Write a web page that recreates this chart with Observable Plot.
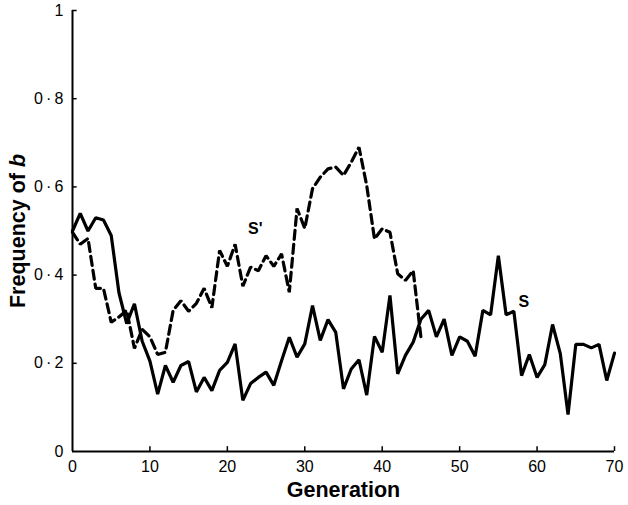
<!DOCTYPE html>
<html>
<head>
<meta charset="utf-8">
<script src="https://cdn.jsdelivr.net/npm/d3@7"></script>
<script src="https://cdn.jsdelivr.net/npm/@observablehq/plot@0.6"></script>
<style>
  html, body { margin: 0; padding: 0; background: #fff; }
  #chart svg { display: block; font-family: "Liberation Sans", Arial, sans-serif; }
</style>
</head>
<body>
<div id="chart"></div>
<script>
// Frequency of b in line S (generations 0..70)
const freqS = [0.50,0.54,0.50,0.53,0.525,0.49,0.36,0.29,0.335,0.25,
  0.205,0.13,0.195,0.157,0.195,0.204,0.135,0.168,0.138,0.184,
  0.202,0.244,0.116,0.154,0.168,0.18,0.15,0.206,0.259,0.214,
  0.244,0.331,0.252,0.299,0.27,0.142,0.187,0.208,0.128,0.261,
  0.225,0.354,0.176,0.218,0.248,0.30,0.32,0.26,0.30,0.218,
  0.26,0.25,0.216,0.32,0.31,0.444,0.31,0.318,0.172,0.22,
  0.168,0.197,0.288,0.222,0.084,0.243,0.243,0.235,0.243,0.161,0.223];
// Frequency of b in line S' (generations 0..45)
const freqSp = [0.497,0.47,0.483,0.37,0.37,0.293,0.305,0.32,0.234,0.277,
  0.26,0.22,0.225,0.32,0.342,0.318,0.336,0.37,0.326,0.456,
  0.42,0.47,0.375,0.418,0.41,0.444,0.42,0.448,0.361,0.551,
  0.506,0.596,0.622,0.641,0.645,0.626,0.656,0.69,0.603,0.482,
  0.505,0.497,0.403,0.388,0.41,0.259];
const xTicks = [0,10,20,30,40,50,60,70];
const yTicks = [0,0.2,0.4,0.6,0.8,1];
const seriesLabels = [{name: "S'", g: 23.6, v: 0.505}, {name: "S", g: 58.3, v: 0.339}];

const dataS = freqS.map((v, i) => ({g: i, v}));
const dataSp = freqSp.map((v, i) => ({g: i, v}));
const fmt = d => d === 0 ? "0" : d === 1 ? "1" : String(d).replace(".", "\u2009\u00B7\u2009");

const plot = Plot.plot({
  width: 628,
  height: 505,
  marginLeft: 72,
  marginRight: 14,
  marginTop: 10,
  marginBottom: 54,
  style: {fontFamily: "'Liberation Sans', Arial, sans-serif", fontSize: "16px", color: "#000", background: "#fff"},
  x: {domain: [0, 70]},
  y: {domain: [0, 1]},
  marks: [
    Plot.axisX(xTicks, {tickSize: 0, tickPadding: 9, tickFormat: d => String(d), label: null, fontSize: 16, fill: "#000"}),
    Plot.axisY(yTicks, {tickSize: 0, tickPadding: 9, tickFormat: fmt, label: null, fontSize: 16, fill: "#000"}),
    Plot.ruleX(xTicks.slice(1), {y1: 0, y2: 0.011, stroke: "#000", strokeWidth: 1.5}),
    Plot.ruleY(yTicks.slice(1), {x1: 0, x2: 0.6, stroke: "#000", strokeWidth: 1.5}),
    Plot.ruleY([0], {x1: 0, x2: 70, stroke: "#000", strokeWidth: 2}),
    Plot.ruleX([0], {y1: 0, y2: 1, stroke: "#000", strokeWidth: 2}),
    Plot.line(dataSp, {x: "g", y: "v", stroke: "#000", strokeWidth: 3.2, strokeDasharray: "9,5", strokeLinejoin: "miter", curve: "linear"}),
    Plot.line(dataS, {x: "g", y: "v", stroke: "#000", strokeWidth: 3.2, strokeLinejoin: "miter", curve: "linear"}),
    Plot.text(seriesLabels, {x: "g", y: "v", text: "name", fontSize: 16, fontWeight: "bold", fill: "#000"}),
    Plot.text(["Generation"], {frameAnchor: "bottom", textAnchor: "middle", lineAnchor: "middle", dy: 39, fontSize: 21.5, fontWeight: "bold", fill: "#000"}),
    Plot.text(["Frequency of b"], {frameAnchor: "left", textAnchor: "middle", lineAnchor: "middle", dx: -54, rotate: -90, fontSize: 21.5, fontWeight: "bold", fill: "#000", className: "ylab"})
  ]
});
document.getElementById("chart").appendChild(plot);

// italic "b" in the y-axis title
d3.select(plot).selectAll(".ylab text").each(function() {
  const t = d3.select(this);
  t.text(null);
  t.append("tspan").text("Frequency of ");
  t.append("tspan").attr("font-style", "italic").text("b");
});
</script>
</body>
</html>
